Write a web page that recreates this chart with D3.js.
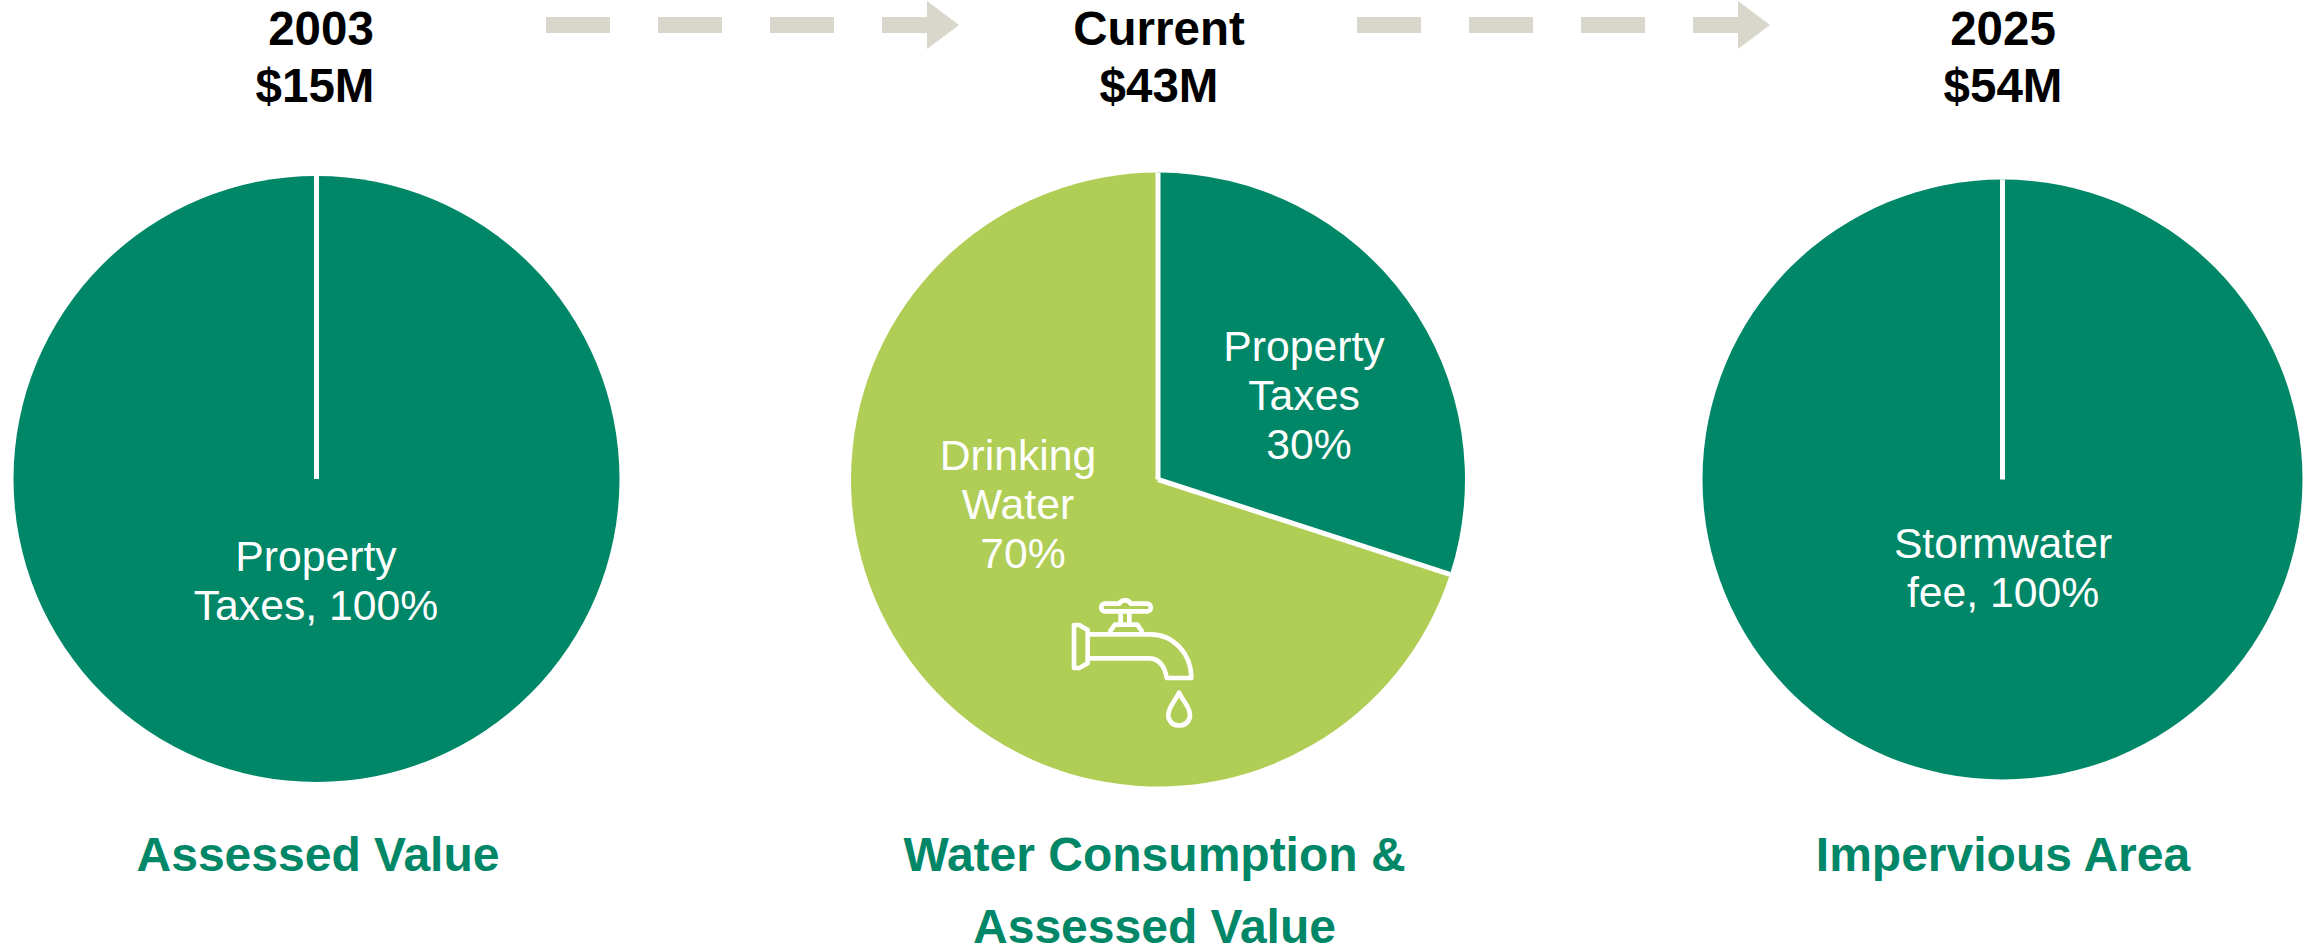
<!DOCTYPE html>
<html><head><meta charset="utf-8">
<style>html,body{margin:0;padding:0;background:#fff}svg{display:block}text{font-family:"Liberation Sans",Arial,sans-serif}</style>
<script src="https://cdnjs.cloudflare.com/ajax/libs/d3/7.8.5/d3.min.js"></script>
</head><body><svg id="c" width="2310" height="949"></svg>
<script>
const periods = ["2003","Current","2025"];
const totals = ["$15M","$43M","$54M"];
const basis = [["Assessed Value"],["Water Consumption &","Assessed Value"],["Impervious Area"]];
const seriesA = [{name:"Property Taxes",value:100}];
const seriesB = [{name:"Property Taxes",value:30},{name:"Drinking Water",value:70}];
const seriesC = [{name:"Stormwater fee",value:100}];
const allSeries = [seriesA,seriesB,seriesC];
const labels = [[["Property","Taxes, 100%"]],[["Property","Taxes","30%"],["Drinking","Water","70%"]],[["Stormwater","fee, 100%"]]];

const GREEN="#008767", LIME="#b0cd56", ARROW="#d9d7cb";
const layout=[{cx:316.5,cy:479,r:303,hx:321,tx:315,bx:318},{cx:1158,cy:479.5,r:307,hx:1159,tx:1159,bx:1154.5},{cx:2002.5,cy:479.5,r:300,hx:2003,tx:2003,bx:2003}];
const labelPos=[[[316,571]],[[1304,361],[1018,470]],[[2003,558]]];
const svg=d3.select("#c");
const pie=d3.pie().sort(null).value(d=>d.value);

allSeries.forEach((s,i)=>{
  const L=layout[i];
  const g=svg.append("g").attr("transform",`translate(${L.cx},${L.cy})`);
  const arc=d3.arc().innerRadius(0).outerRadius(L.r);
  g.selectAll("path").data(pie(s)).join("path")
    .attr("d",arc).attr("fill",(d,j)=>j===0?GREEN:LIME)
    .attr("stroke","none");
  const starts = s.length>1 ? pie(s).map(d=>d.startAngle) : [0];
  starts.forEach(a=>{
    g.append("line").attr("x1",0).attr("y1",0)
      .attr("x2",L.r*Math.sin(a)).attr("y2",-L.r*Math.cos(a))
      .attr("stroke","#fff").attr("stroke-width",5);
  });
  labels[i].forEach((lines,k)=>{
    const [x,y]=labelPos[i][k];
    lines.forEach((t,n)=>{
      svg.append("text").attr("x",x+(n===2?5:0)).attr("y",y+n*49).attr("text-anchor","middle")
        .attr("font-size",42.7).attr("fill","#fff").text(t);
    });
  });
  svg.append("text").attr("x",L.hx).attr("y",45).attr("text-anchor","middle")
    .attr("font-size",47.5).attr("font-weight","bold").attr("fill","#000").text(periods[i]);
  svg.append("text").attr("x",L.tx).attr("y",102).attr("text-anchor","middle")
    .attr("font-size",47.5).attr("font-weight","bold").attr("fill","#000").text(totals[i]);
  basis[i].forEach((t,n)=>{
    svg.append("text").attr("x",L.bx).attr("y",871+n*72).attr("text-anchor","middle")
      .attr("font-size",48).attr("font-weight","bold").attr("fill",GREEN).text(t);
  });
});

[546,1357].forEach(x0=>{
  const g=svg.append("g").attr("transform",`translate(${x0},0)`).attr("fill",ARROW);
  [0,112,224,336].forEach(dx=>g.append("rect").attr("x",dx).attr("y",17).attr("width",dx===336?50:64).attr("height",16));
  g.append("path").attr("d","M381,1L413,25L381,49Z");
});

const ic=svg.append("g").attr("transform","translate(1040,580) scale(0.3333)")
  .attr("fill","none").attr("stroke","#fff").attr("stroke-width",14).attr("stroke-linejoin","round");
ic.append("path").attr("d","M102,135L118,135L143,150L143,250L118,264L102,264Z");
ic.append("path").attr("d","M143,163L330,163C400,163 454,220 454,294L380,294C375,262 362,235 325,235L143,235");
ic.append("path").attr("d","M208,157L225,134L292,134L308,157");
ic.append("path").attr("d","M242,134L242,95M268,134L268,95");
ic.append("path").attr("d","M195,71L238,71C245,58 265,58 272,71L322,71C336,71 336,94 322,94L272,94L238,94L195,94C180,94 180,71 195,71Z");
ic.append("path").attr("d","M417,338C405,365 385,380 385,405C385,447 450,447 450,405C450,380 430,365 417,338Z");
</script></body></html>
